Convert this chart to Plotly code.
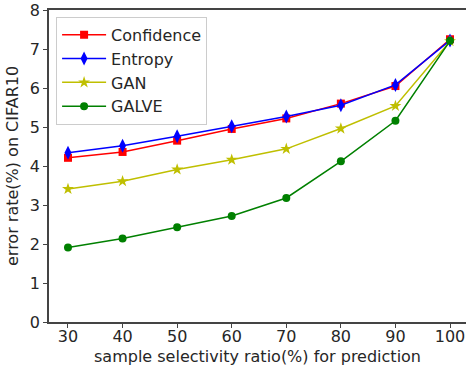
import plotly.graph_objects as go

ratios = [30, 40, 50, 60, 70, 80, 90, 100]
confidence = [4.21, 4.36, 4.65, 4.95, 5.22, 5.6, 6.05, 7.25]
entropy = [4.34, 4.52, 4.76, 5.02, 5.27, 5.56, 6.08, 7.22]
gan = [3.41, 3.61, 3.91, 4.16, 4.44, 4.96, 5.54, 7.2]
galve = [1.91, 2.14, 2.43, 2.72, 3.18, 4.12, 5.16, 7.21]

series = [
    ("Confidence", confidence, "#ff0000", "square", 8),
    ("Entropy", entropy, "#0000ff", "diamond-tall", 10),
    ("GAN", gan, "#bfbf00", "star", 9),
    ("GALVE", galve, "#008000", "circle", 8),
]

fig = go.Figure()
for name, vals, color, sym, size in series:
    fig.add_trace(go.Scatter(
        x=ratios, y=vals, name=name, mode="lines+markers",
        line=dict(color=color, width=1.5),
        marker=dict(symbol=sym, size=size, color=color, line=dict(width=0)),
    ))

font = "DejaVu Sans, sans-serif"
fig.update_layout(
    width=466, height=371,
    margin=dict(l=49, r=0, t=10, b=49),
    paper_bgcolor="white", plot_bgcolor="white",
    font=dict(family=font, size=16, color="#262626"),
    showlegend=True,
    legend=dict(
        x=0.017, y=0.978, xanchor="left", yanchor="top",
        bgcolor="rgba(255,255,255,0.8)", bordercolor="#cccccc", borderwidth=1,
        font=dict(family=font, size=16, color="#262626"),
        tracegroupgap=0, itemwidth=44,
    ),
    xaxis=dict(
        range=[26.52, 102.93], tickvals=ratios, ticktext=[str(r) for r in ratios],
        showgrid=False, zeroline=False, showline=True, linecolor="#444444", linewidth=1.5,
        mirror=True, ticks="outside", ticklen=4, tickcolor="#444444",
        tickfont=dict(size=16), automargin=False, ticklabelstandoff=-5,
    ),
    yaxis=dict(
        range=[0, 8], tickvals=[0, 1, 2, 3, 4, 5, 6, 7, 8],
        showgrid=False, zeroline=False, showline=True, linecolor="#444444", linewidth=1.5,
        ticks="outside", ticklen=4, tickcolor="#444444",
        tickfont=dict(size=16), automargin=False,
    ),
    annotations=[
        dict(text="sample selectivity ratio(%) for prediction", xref="paper", yref="paper",
             x=0.5, y=0, xanchor="center", yanchor="middle", yshift=-34, showarrow=False,
             font=dict(size=16, family=font, color="#262626")),
        dict(text="error rate(%) on CIFAR10", xref="paper", yref="paper",
             x=0, y=0.5, xanchor="center", yanchor="middle", xshift=-37, textangle=-90,
             showarrow=False, font=dict(size=16, family=font, color="#262626")),
    ],
)

fig.write_html("out.html", config={"displayModeBar": False})
with open("out.html", "r", encoding="utf-8") as f:
    html = f.read()
html = html.replace("<body>", '<body style="margin:0;overflow:hidden">', 1)
with open("out.html", "w", encoding="utf-8") as f:
    f.write(html)
